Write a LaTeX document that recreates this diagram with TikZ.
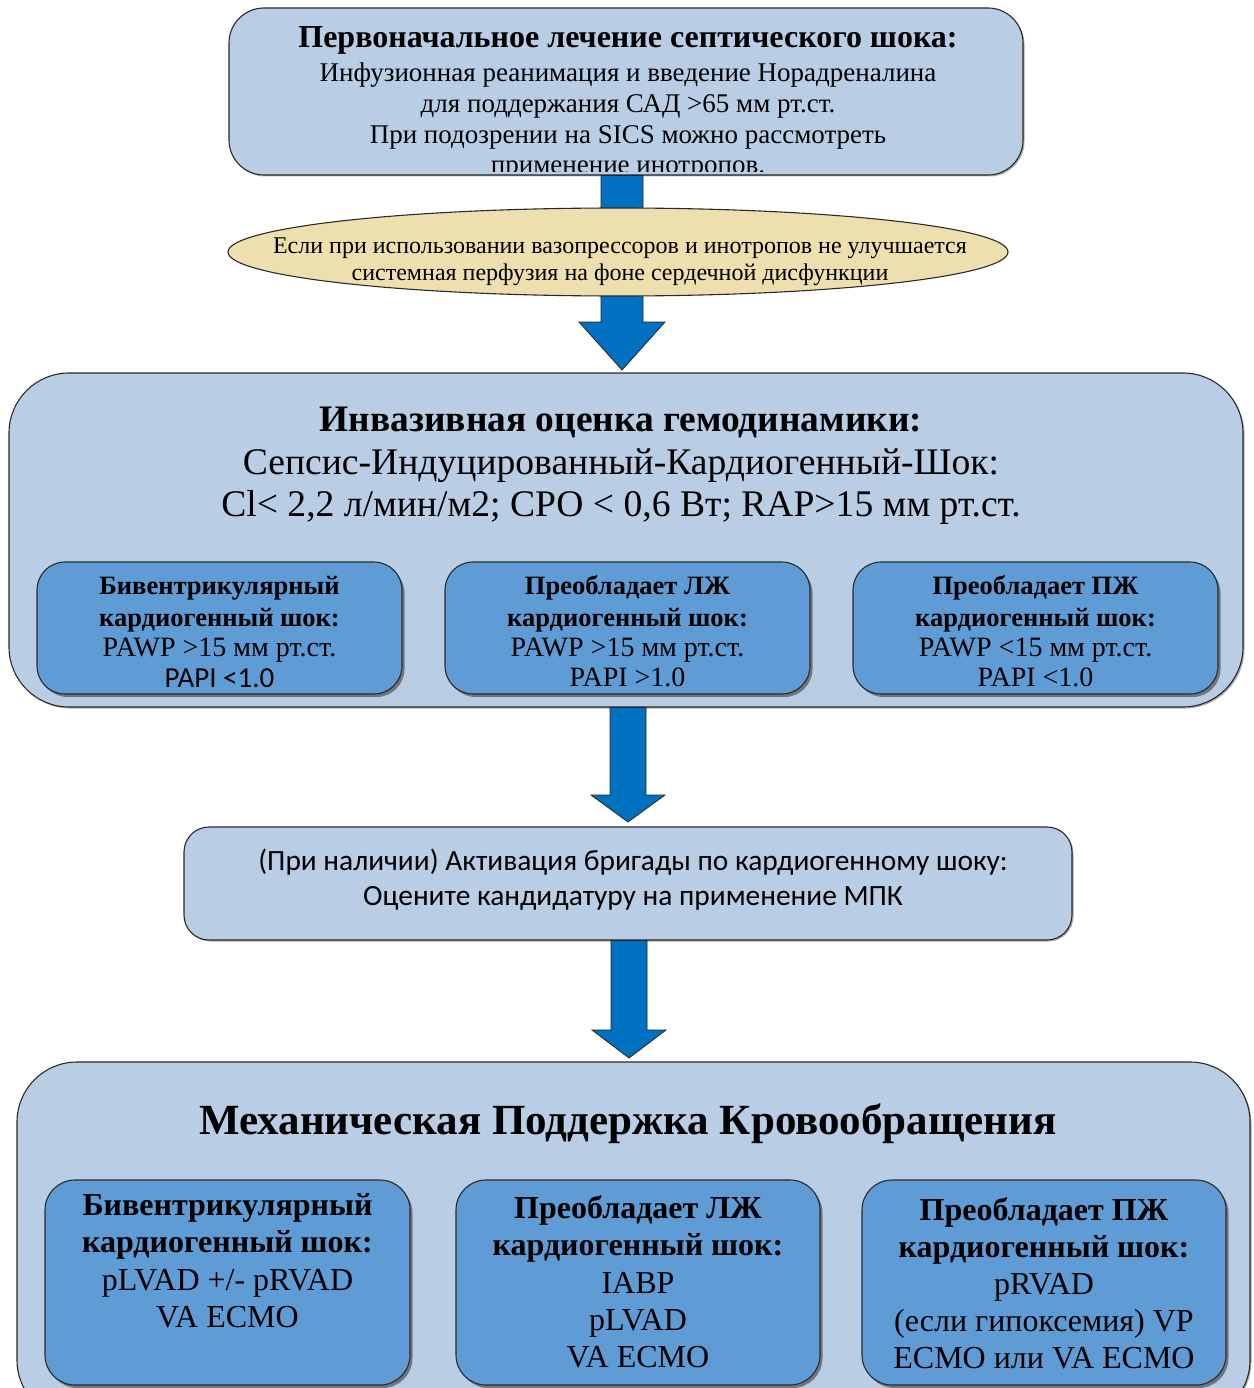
\documentclass[tikz,border=0pt]{standalone}
\usepackage{fontspec}
\setmainfont{Liberation Serif}
\newfontfamily\calfont{Carlito}
\usetikzlibrary{shapes.geometric,shadows,calc}
\definecolor{lightbox}{HTML}{B9CDE5}
\definecolor{subbox}{HTML}{5F9BD5}
\definecolor{arrowblue}{HTML}{0070C0}
\definecolor{ellfill}{HTML}{EEE0AE}
\definecolor{edgecol}{HTML}{2A2A2A}
\newcommand{\blockarr}[5]{%
  \draw[arrowsty] let \p1=(#1), \p2=(#2) in
    (\x2-#3pt,\y1) -- (\x2-#3pt,\y2+#5pt) -- (\x2-#4pt,\y2+#5pt) -- (\x2,\y2)
    -- (\x2+#4pt,\y2+#5pt) -- (\x2+#3pt,\y2+#5pt) -- (\x2+#3pt,\y1) -- cycle;}
\begin{document}
\begin{tikzpicture}[x=1pt,y=-1pt,
  bigbox/.style={draw=edgecol, line width=1.1pt, fill=lightbox, rounded corners=#1,
    inner sep=0pt, drop shadow={shadow xshift=1.5pt,shadow yshift=-1.5pt,fill=black!55,opacity=0.6}},
  subbx/.style={draw=edgecol, line width=1.1pt, fill=subbox, rounded corners=#1,
    inner sep=0pt, drop shadow={shadow xshift=2.5pt,shadow yshift=-3pt,fill=black!65,opacity=0.75}},
  arrowsty/.style={fill=arrowblue, draw=black!85, line width=0.8pt},
  txt/.style={align=center, inner sep=0pt, anchor=base, text=black},
]
\useasboundingbox[fill=white] (0,0) rectangle (1253,1388);

% ---------- top box ----------
\node[bigbox=35pt, minimum width=794pt, minimum height=167pt] (top) at (626,91.5) {};
\node[txt, font=\bfseries\fontsize{32}{36}\selectfont] (toptitle) at (628,48) {Первоначальное лечение септического шока:};
\begin{scope}
  \clip (240,55) rectangle (1010,171.5);
  \node[txt, font=\fontsize{27}{30.8}\selectfont] (topbody) at (628,174)
    {Инфузионная реанимация и введение Норадреналина\\
     для поддержания САД >65 мм рт.ст.\\
     При подозрении на SICS можно рассмотреть\\
     применение инотропов.};
\end{scope}

% ---------- arrow 1 + ellipse ----------
\coordinate (tip1) at (622,370);
\blockarr{top.south}{tip1}{21}{43}{48}
\node[ellipse, draw=edgecol, line width=1.1pt, fill=ellfill, minimum width=780pt, minimum height=88pt, inner sep=0pt] (ell) at (618,252) {};
\node[txt, font=\fontsize{24}{27}\selectfont] (elltext) at (620,280)
  {Если при использовании вазопрессоров и инотропов не улучшается\\
   системная перфузия на фоне сердечной дисфункции};

% ---------- middle box ----------
\node[bigbox=60pt, minimum width=1234pt, minimum height=334pt] (mid) at (626,540) {};
\node[txt, font=\bfseries\fontsize{37.4}{40}\selectfont] (midtitle) at (621,431) {Инвазивная оценка гемодинамики:};
\node[txt, font=\fontsize{37.6}{42}\selectfont] (midbody) at (621,516)
  {Сепсис-Индуцированный-Кардиогенный-Шок:\\
   Cl< 2,2 л/мин/м2; СРО < 0,6 Вт; RAP>15 мм рт.ст.};

\node[subbx=28pt, minimum width=365pt, minimum height=132pt] (m1) at (219.5,628) {};
\node[subbx=28pt, minimum width=365pt, minimum height=132pt] (m2) at (627.5,628) {};
\node[subbx=28pt, minimum width=365pt, minimum height=132pt] (m3) at (1035.5,628) {};

\node[txt, font=\bfseries\fontsize{26.5}{32}\selectfont] (m1t) at (m1.center |- 0,626)
  {Бивентрикулярный\\кардиогенный шок:};
\node[txt, font=\fontsize{28}{30}\selectfont] (m1b) at (m1.center |- 0,656) {PAWP >15 мм рт.ст.};
\node[txt, font=\calfont\fontsize{29}{30}\selectfont] (m1c) at (m1.center |- 0,687) {PAPI <1.0};

\node[txt, font=\bfseries\fontsize{26.5}{32}\selectfont] (m2t) at (m2.center |- 0,626)
  {Преобладает ЛЖ\\кардиогенный шок:};
\node[txt, font=\fontsize{28}{30}\selectfont] (m2b) at (m2.center |- 0,686) {PAWP >15 мм рт.ст.\\PAPI >1.0};

\node[txt, font=\bfseries\fontsize{26.5}{32}\selectfont] (m3t) at (m3.center |- 0,626)
  {Преобладает ПЖ\\кардиогенный шок:};
\node[txt, font=\fontsize{28}{30}\selectfont] (m3b) at (m3.center |- 0,686) {PAWP <15 мм рт.ст.\\PAPI <1.0};

% ---------- activation box ----------
\node[bigbox=25pt, minimum width=888pt, minimum height=113pt] (act) at (628,883.5) {};
\coordinate (tip2) at (628,822);
\blockarr{mid.south}{tip2}{18}{37}{27}
\node[txt, font=\calfont\fontsize{29.4}{35}\selectfont] (acttext) at (633,905)
  {(При наличии) Активация бригады по кардиогенному шоку:\\
   Оцените кандидатуру на применение МПК};

% ---------- bottom box ----------
\coordinate (tip3) at (629,1058);
\blockarr{act.south}{tip3}{18}{37}{28}
\node[bigbox=60pt, minimum width=1233pt, minimum height=358pt] (bot) at (633.5,1241) {};
\node[txt, font=\bfseries\fontsize{43}{48}\selectfont] (bottitle) at (628,1134) {Механическая Поддержка Кровообращения};

\node[subbx=30pt, minimum width=365pt, minimum height=205pt] (b1) at (227.5,1282.5) {};
\node[subbx=30pt, minimum width=364pt, minimum height=205pt] (b2) at (638,1282.5) {};
\node[subbx=30pt, minimum width=364pt, minimum height=205pt] (b3) at (1044,1282.5) {};

\node[txt, font=\bfseries\fontsize{32}{37.5}\selectfont] (b1t) at (b1.center |- 0,1252.5)
  {Бивентрикулярный\\кардиогенный шок:};
\node[txt, font=\fontsize{32}{37}\selectfont] (b1b) at (b1.center |- 0,1327)
  {pLVAD +/- pRVAD\\VA ECMO};

\node[txt, font=\bfseries\fontsize{32}{37.5}\selectfont] (b2t) at (b2.center |- 0,1255.5)
  {Преобладает ЛЖ\\кардиогенный шок:};
\node[txt, font=\fontsize{32}{37}\selectfont] (b2b) at (b2.center |- 0,1367)
  {IABP\\pLVAD\\VA ECMO};

\node[txt, font=\bfseries\fontsize{32}{37.5}\selectfont] (b3t) at (b3.center |- 0,1257.5)
  {Преобладает ПЖ\\кардиогенный шок:};
\node[txt, font=\fontsize{32}{37}\selectfont] (b3b) at (b3.center |- 0,1368)
  {pRVAD\\(если гипоксемия) VP\\ECMO или VA ECMO};
\end{tikzpicture}
\end{document}
